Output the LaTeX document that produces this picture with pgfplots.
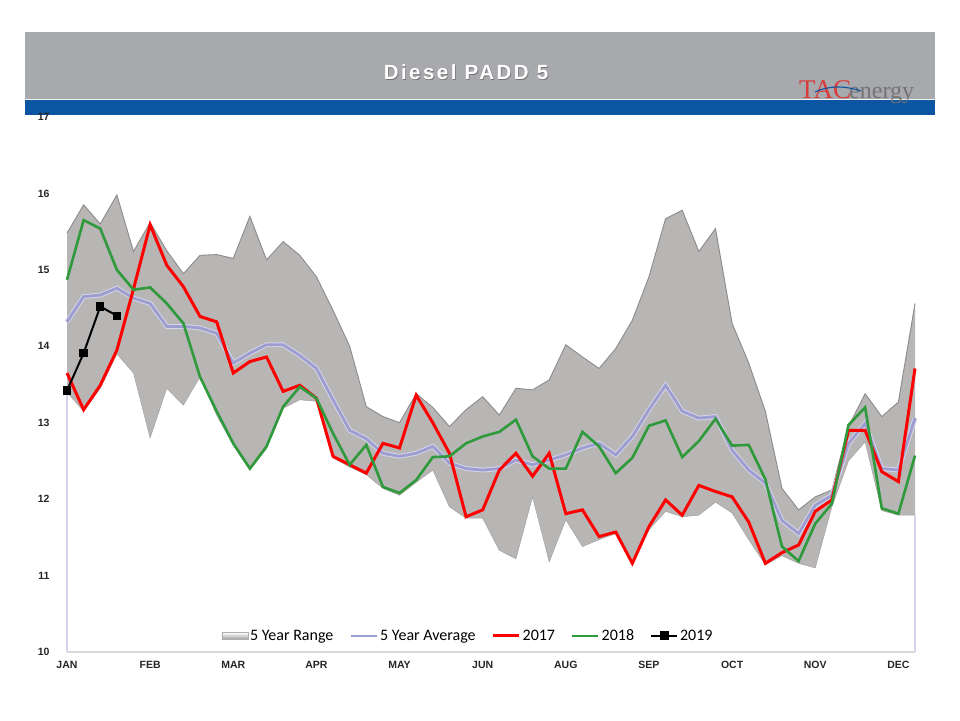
\documentclass[border=0pt]{standalone}
\usepackage{pgfplots}
\pgfplotsset{compat=1.18}
\usepackage{pgfplotstable}
\usepgfplotslibrary{fillbetween}
\usepackage{fontspec}
\setmainfont{Liberation Sans}
\newfontfamily\carlito{Carlito}
\newfontfamily\logofont{Liberation Serif}
\newfontfamily\titlefont[LetterSpace=12]{Liberation Sans}

\definecolor{bargrey}{HTML}{A7A9AC}
\definecolor{barblue}{HTML}{0B55A2}
\definecolor{bandfill}{HTML}{B8B5B5}
\definecolor{bandedge}{HTML}{8C8A8A}
\definecolor{avgline}{HTML}{9D9DCF}
\definecolor{avghalo}{HTML}{D4D4EA}
\definecolor{g2018}{HTML}{2F9A3B}
\definecolor{logored}{HTML}{D93A3A}

% weekly values, week 0 = first week of January
\pgfplotstableread{
wk upper lower avg y2017 y2018
0  15.48 13.40 14.32 13.65 14.87
1  15.85 13.15 14.65 13.17 15.65
2  15.60 13.45 14.67 13.49 15.54
3  15.98 13.90 14.76 13.95 15.00
4  15.24 13.65 14.63 14.75 14.74
5  15.62 12.80 14.56 15.59 14.77
6  15.25 13.45 14.26 15.06 14.56
7  14.95 13.23 14.26 14.78 14.30
8  15.19 13.60 14.24 14.39 13.60
9  15.20 13.10 14.17 14.32 13.15
10 15.15 12.70 13.78 13.65 12.73
11 15.70 12.38 13.91 13.80 12.40
12 15.13 12.66 14.02 13.86 12.69
13 15.37 13.19 14.02 13.41 13.21
14 15.19 13.30 13.88 13.49 13.47
15 14.91 13.28 13.71 13.32 13.32
16 14.47 12.54 13.30 12.56 12.86
17 14.00 12.42 12.90 12.45 12.45
18 13.21 12.32 12.79 12.34 12.71
19 13.08 12.14 12.60 12.73 12.16
20 13.00 12.05 12.56 12.67 12.08
21 13.38 12.22 12.60 13.36 12.25
22 13.20 12.38 12.69 13.00 12.55
23 12.95 11.90 12.47 12.60 12.56
24 13.17 11.75 12.40 11.77 12.73
25 13.34 11.75 12.38 11.86 12.82
26 13.10 11.33 12.40 12.38 12.88
27 13.45 11.22 12.51 12.60 13.04
28 13.43 12.03 12.45 12.30 12.56
29 13.56 11.18 12.51 12.60 12.40
30 14.02 11.73 12.58 11.81 12.40
31 13.86 11.38 12.67 11.86 12.88
32 13.71 11.47 12.73 11.51 12.69
33 13.97 11.55 12.58 11.57 12.34
34 14.34 11.14 12.82 11.16 12.54
35 14.91 11.60 13.17 11.64 12.96
36 15.67 11.84 13.49 11.99 13.03
37 15.78 11.77 13.15 11.79 12.55
38 15.24 11.79 13.06 12.18 12.76
39 15.54 11.96 13.08 12.10 13.05
40 14.30 11.82 12.64 12.03 12.70
41 13.78 11.47 12.38 11.70 12.71
42 13.15 11.14 12.21 11.16 12.26
43 12.14 11.26 11.72 11.30 11.38
44 11.86 11.16 11.55 11.40 11.19
45 12.03 11.10 11.92 11.84 11.68
46 12.12 11.90 12.05 11.99 11.94
47 12.95 12.50 12.73 12.90 12.97
48 13.38 12.75 12.99 12.90 13.20
49 13.08 11.85 12.40 12.36 11.88
50 13.27 11.79 12.38 12.23 11.81
51 14.56 11.79 13.06 13.71 12.57
}\weekly

\pgfplotstableread{
wk y2019
0 13.42
1 13.91
2 14.52
3 14.40
}\ytd

\begin{document}
\begin{tikzpicture}
\begin{scope}[x=1pt,y=1pt]
\useasboundingbox (0,0) rectangle (960,720);
% header band
\fill[bargrey] (25,620) rectangle (935,688);
\fill[barblue] (25,605) rectangle (935,620);
\draw[white!85!bargrey, line width=0.8pt] (25,620.4) -- (935,620.4);
\node[text=black!55, font=\titlefont\bfseries\fontsize{20.5}{22}\selectfont] at (466.8,647.2) {Diesel PADD 5};
\node[text=white, font=\titlefont\bfseries\fontsize{20.5}{22}\selectfont] at (466,648) {Diesel PADD 5};
\node[anchor=base west, inner sep=0, text=logored, font=\logofont\fontsize{27}{29}\selectfont] at (799,621) {TAC};
\node[anchor=base west, inner sep=0, text=black!55, font=\logofont\fontsize{24}{26}\selectfont] at (849,621) {energy};
\draw[barblue, line width=1.1pt] (815,628) .. controls (830,635) and (846,634) .. (861,629);
\end{scope}

\begin{axis}[
    at={(67pt,68pt)}, anchor=south west,
    scale only axis, width=848pt, height=535pt,
    xmin=0, xmax=51, ymin=10, ymax=17,
    xtick={0,5,...,50},
    xticklabels={JAN,FEB,MAR,APR,MAY,JUN,AUG,SEP,OCT,NOV,DEC},
    ytick={10,11,...,17},
    axis x line*=bottom, axis y line*=left,
    x axis line style={draw=black!15, line width=1.2pt},
    y axis line style={draw=none},
    major tick length=0pt,
    /pgf/number format/assume math mode=true,
    tick label style={font=\bfseries\fontsize{10.5}{12}\selectfont, text=black!85},
    yticklabel style={xshift=-14pt},
    xticklabel style={yshift=-6pt},
    clip=false,
    legend style={draw=none, fill=none, at={(0.473,0.03)}, anchor=center,
        font=\carlito\fontsize{16}{18}\selectfont,
        /tikz/every even column/.append style={column sep=14pt}},
    legend columns=5,
    legend cell align=left,
    legend image code/.code={\draw[#1] (0pt,0pt) -- (26pt,0pt);},
]
\addplot[draw=none, name path=upper, forget plot] table[x=wk, y=upper] {\weekly};
\addplot[draw=none, name path=lower, forget plot] table[x=wk, y=lower] {\weekly};
\addplot[fill=bandfill, draw=none,
    legend image code/.code={\shade[top color=white, bottom color=bandfill!85!black, draw=bandedge!70, line width=0.4pt] (0pt,-3.5pt) rectangle (26pt,3.5pt);}]
    fill between[of=upper and lower];
\addlegendentry{5 Year Range}
\addplot[bandedge, line width=0.9pt, forget plot] table[x=wk, y=upper] {\weekly};
\addplot[bandfill!90!black, line width=0.5pt, forget plot] table[x=wk, y=lower] {\weekly};
% left and right edges of the range area
\addplot[avghalo, line width=1.4pt, forget plot] coordinates {(0,10) (0,13.40)};
\addplot[avghalo, line width=1.4pt, forget plot] coordinates {(51,10) (51,11.79)};

\addplot[avghalo, line width=4.8pt, forget plot] table[x=wk, y=avg] {\weekly};
\addplot[avgline, line width=2.8pt] table[x=wk, y=avg] {\weekly};
\addlegendentry{5 Year Average}
\addplot[red, line width=3pt] table[x=wk, y=y2017] {\weekly};
\addlegendentry{2017}
\addplot[g2018, line width=2.6pt] table[x=wk, y=y2018] {\weekly};
\addlegendentry{2018}
\addplot[black, line width=2pt, mark=square*, mark size=3.2pt,
    legend image code/.code={\draw[black, line width=2pt] (0pt,0pt) -- (26pt,0pt); \fill[black] (10pt,-3.5pt) rectangle (17pt,3.5pt);}]
    table[x=wk, y=y2019] {\ytd};
\addlegendentry{2019}
\end{axis}
\end{tikzpicture}
\end{document}
